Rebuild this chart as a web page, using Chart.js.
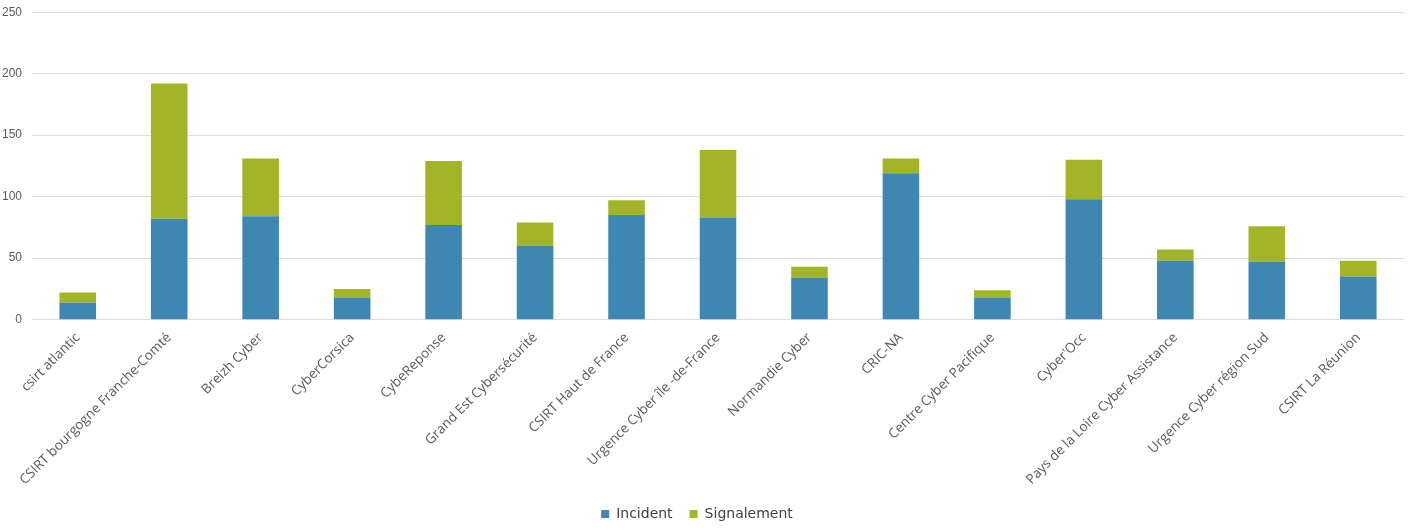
<!DOCTYPE html>
<html>
<head>
<meta charset="utf-8">
<script src="https://cdn.jsdelivr.net/npm/chart.js@4/dist/chart.umd.min.js"></script>
<style>
  html, body { margin: 0; padding: 0; background: #fff; overflow: hidden; }
  #wrap { position: absolute; left: -10px; top: -5px; width: 1425px; height: 536px; }
</style>
</head>
<body>
<div id="wrap"><canvas id="chart"></canvas></div>
<script>
// categories (CERT régionaux)
const categories = [
  "csirt atlantic", "CSIRT bourgogne Franche-Comté", "Breizh Cyber", "CyberCorsica",
  "CybeReponse", "Grand Est Cybersécurité", "CSIRT Haut de France",
  "Urgence Cyber île -de-France", "Normandie Cyber", "CRIC-NA",
  "Centre Cyber Pacifique", "Cyber'Occ", "Pays de la Loire Cyber Assistance",
  "Urgence Cyber région Sud", "CSIRT La Réunion"
];
const incident    = [14, 82, 84, 18, 77, 60, 85, 83, 34, 119, 18, 98, 48, 47, 35];
const signalement = [8, 110, 47, 7, 52, 19, 12, 55, 9, 12, 6, 32, 9, 29, 13];
const yTicks = [0, 50, 100, 150, 200, 250];

const ctx = document.getElementById('chart').getContext('2d');
const chart = new Chart(ctx, {
  type: 'bar',
  data: {
    labels: categories,
    datasets: [
      { label: 'Incident', data: incident, backgroundColor: '#3e87b2', barPercentage: 0.4, categoryPercentage: 1 },
      { label: 'Signalement', data: signalement, backgroundColor: '#a3b526', barPercentage: 0.4, categoryPercentage: 1 }
    ]
  },
  options: {
    responsive: true,
    maintainAspectRatio: false,
    animation: false,
    layout: { padding: { top: 0, right: 11, bottom: 0, left: 0 } },
    plugins: {
      tooltip: { enabled: false },
      legend: {
        position: 'bottom',
        labels: {
          boxWidth: 8, boxHeight: 8, padding: 17,
          color: '#404040',
          font: { family: 'DejaVu Sans', size: 14 }
        }
      }
    },
    scales: {
      x: {
        stacked: true,
        grid: { display: false },
        border: { display: false },
        ticks: {
          minRotation: 45, maxRotation: 45, autoSkip: false,
          color: '#595959', padding: 2,
          font: { family: 'Open Sans', size: 13.5 }
        }
      },
      y: {
        stacked: true,
        min: 0, max: 250,
        afterBuildTicks: axis => { axis.ticks = yTicks.map(v => ({ value: v })); },
        afterFit: axis => { axis.width = 42; },
        grid: { color: '#dcdcdc', drawTicks: false },
        border: { display: false },
        ticks: {
          color: '#595959', padding: 10,
          font: { family: 'Liberation Sans', size: 12 }
        }
      }
    }
  }
});
</script>
</body>
</html>
